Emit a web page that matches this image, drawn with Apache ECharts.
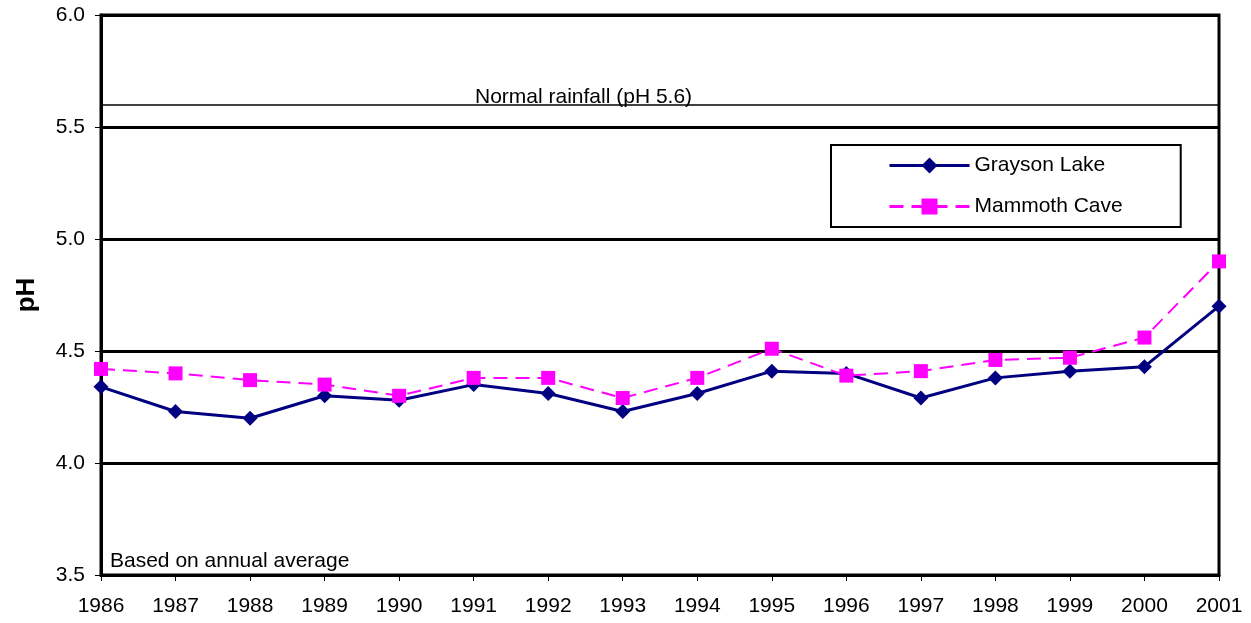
<!DOCTYPE html>
<html>
<head>
<meta charset="utf-8">
<script src="https://cdn.jsdelivr.net/npm/echarts@6/dist/echarts.min.js"></script>
<style>html,body{margin:0;padding:0;background:#fff;}#c{width:1251px;height:623px;}</style>
</head>
<body>
<div id="c"></div>
<script>
const years = ['1986','1987','1988','1989','1990','1991','1992','1993','1994','1995','1996','1997','1998','1999','2000','2001'];
const graysonLake = [4.34,4.23,4.20,4.30,4.28,4.35,4.31,4.23,4.31,4.41,4.40,4.29,4.38,4.41,4.43,4.70];
const mammothCave = [4.42,4.40,4.37,4.35,4.30,4.38,4.38,4.29,4.38,4.51,4.39,4.41,4.46,4.47,4.56,4.90];
const normalRainfall = 5.6;
const yTicks = {min: 3.5, max: 6.0, interval: 0.5};

const FONT = 'Arial, "Liberation Sans", sans-serif';
const FS = 21;
const chart = echarts.init(document.getElementById('c'), null, {renderer: 'canvas'});
chart.setOption({
  animation: false,
  backgroundColor: '#fff',
  textStyle: {fontFamily: FONT, color: '#000'},
  grid: {left: 101, right: 32, top: 15, bottom: 48, show: true, borderColor: '#000', borderWidth: 3, backgroundColor: 'transparent'},
  legend: {
    orient: 'vertical', left: 831, top: 145,
    itemWidth: 80, itemHeight: 20, itemGap: 20,
    padding: [10, 58, 10, 57],
    borderColor: '#000', borderWidth: 2,
    textStyle: {fontSize: FS, fontFamily: FONT, color: '#000', lineHeight: 20},
    data: [
      {name: 'Grayson Lake', lineStyle: {width: 3}},
      {name: 'Mammoth Cave', lineStyle: {width: 3}}
    ]
  },
  xAxis: {
    type: 'category', data: years, boundaryGap: false,
    axisLine: {lineStyle: {color: '#000', width: 3}},
    axisTick: {show: true, length: 6, lineStyle: {color: '#000', width: 1}},
    axisLabel: {fontSize: FS, color: '#000', fontFamily: FONT, margin: 21},
    splitLine: {show: false}
  },
  yAxis: {
    type: 'value', min: yTicks.min, max: yTicks.max, interval: yTicks.interval,
    name: 'pH', nameLocation: 'middle', nameGap: 61, nameRotate: 90,
    nameTextStyle: {fontSize: 26, fontWeight: 'bold', color: '#000', fontFamily: FONT},
    axisLine: {show: true, lineStyle: {color: '#000', width: 3}},
    axisTick: {show: true, length: 6, lineStyle: {color: '#000', width: 1}},
    axisLabel: {fontSize: FS, color: '#000', fontFamily: FONT, margin: 16, formatter: v => v.toFixed(1)},
    splitLine: {show: true, lineStyle: {color: '#000', width: 3}}
  },
  graphic: [{
    type: 'text', left: 110, top: 551,
    style: {text: 'Based on annual average', font: FS + 'px ' + FONT, fill: '#000'}
  }],
  series: [
    {
      name: 'Grayson Lake', type: 'line', data: graysonLake,
      symbol: 'diamond', symbolSize: 15,
      itemStyle: {color: '#000080'},
      lineStyle: {color: '#000080', width: 3},
      z: 3,
      markLine: {
        silent: true, symbol: 'none',
        lineStyle: {color: '#000', width: 1.5, type: 'solid'},
        label: {show: true, position: 'insideStartTop', distance: [374, -3], formatter: 'Normal rainfall (pH 5.6)', fontSize: FS, color: '#000', fontFamily: FONT},
        data: [{yAxis: normalRainfall}]
      }
    },
    {
      name: 'Mammoth Cave', type: 'line', data: mammothCave,
      symbol: 'rect', symbolSize: 14,
      itemStyle: {color: '#FF00FF'},
      lineStyle: {color: '#FF00FF', width: 2, type: [14, 8]},
      z: 4
    }
  ]
});
</script>
</body>
</html>
